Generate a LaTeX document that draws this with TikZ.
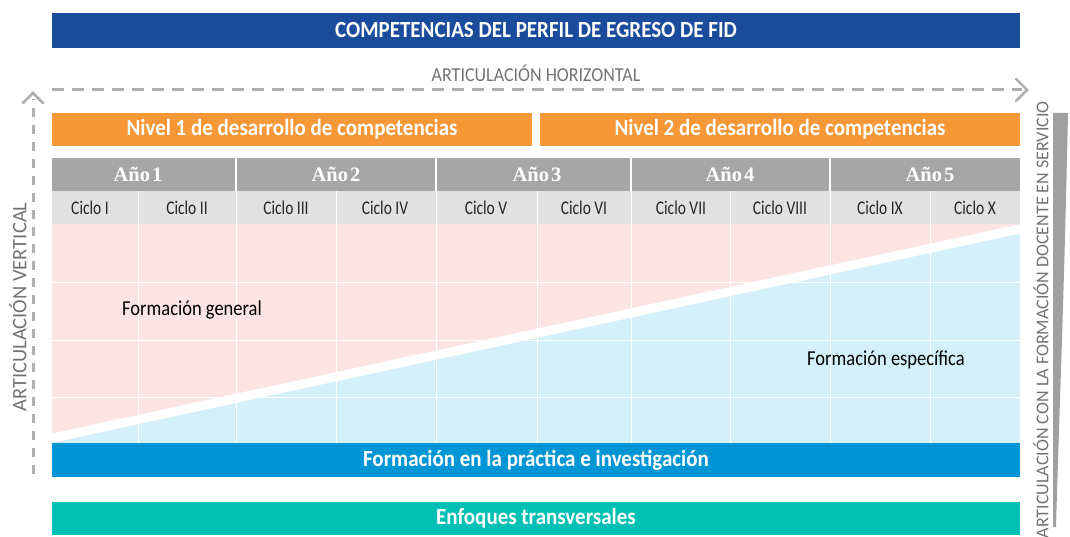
\documentclass[tikz,border=0pt]{standalone}
\usepackage{graphicx}
\usepackage{fontspec}
\setmainfont{Carlito}
\newfontfamily\yearfont{Liberation Serif}
\newcommand\vstr[2]{\scalebox{1}[#1]{#2}}
\definecolor{topblue}{RGB}{27,76,155}
\definecolor{orangebar}{RGB}{247,152,56}
\definecolor{yeargray}{RGB}{166,166,166}
\definecolor{ciclogray}{RGB}{225,225,225}
\definecolor{pinkbg}{RGB}{253,228,228}
\definecolor{lightblue}{RGB}{212,241,251}
\definecolor{practblue}{RGB}{0,150,214}
\definecolor{teal}{RGB}{0,191,179}
\definecolor{dashgray}{RGB}{175,175,175}
\definecolor{labelgray}{RGB}{115,115,115}
\definecolor{wedgegray}{RGB}{160,160,160}
\tikzset{
  bar/.style={inner sep=0pt, minimum height=34pt, text=white, font=\fontsize{21}{23}\selectfont\bfseries},
  yearcell/.style={inner sep=0pt, text=white, font=\yearfont\fontsize{20.5}{22}\selectfont\bfseries},
  ciclocell/.style={inner sep=0pt, text=black!85, font=\fontsize{15.5}{17}\selectfont},
  areatext/.style={inner sep=0pt, text=black, font=\fontsize{18.5}{20}\selectfont},
  sidelabel/.style={inner sep=0pt, text=labelgray, font=\fontsize{18}{20}\selectfont},
  dashline/.style={draw=dashgray, line width=3pt, dash pattern=on 12pt off 8pt},
  vdashline/.style={draw=dashgray, line width=3pt, dash pattern=on 9pt off 8pt},
  chevron/.style={draw=dashgray, line width=2.5pt, line cap=round, line join=miter},
  gridline/.style={draw=white, line width=0.8pt},
  sepline/.style={draw=white, line width=1.5pt}
}
\begin{document}
\begin{tikzpicture}[x=1pt,y=-1pt]
\useasboundingbox (0,0) rectangle (1070,537);

% top bar
\node[bar, fill=topblue, minimum width=968pt, minimum height=35pt] (top) at (536,30.5) {\vstr{1.1}{COMPETENCIAS DEL PERFIL DE EGRESO DE FID}};

% horizontal articulation
\node[sidelabel] (hlabel) at (536,73) {\vstr{1.1}{ARTICULACIÓN HORIZONTAL}};
\coordinate (h0) at (52,90);
\coordinate (h1) at (1022,90);
\draw[dashline] (h0) -- (h1);
\coordinate (ht) at (1027,90);
\draw[chevron] (1016,79) -- (ht) -- (1016,101);

% levels
\node[bar, fill=orangebar, minimum width=480pt, minimum height=33pt] (n1) at (292,129.5) {\vstr{1.1}{Nivel 1 de desarrollo de competencias}};
\node[bar, fill=orangebar, minimum width=480pt, minimum height=33pt] (n2) at (780,129.5) {\vstr{1.1}{Nivel 2 de desarrollo de competencias}};

% year row and ciclo row backgrounds
\fill[yeargray] (52,158) rectangle (1020,191);
\fill[ciclogray] (52,191) rectangle (1020,224);

% main area
\begin{scope}
\clip (52,224) rectangle (1020,443);
\fill[pinkbg] (52,224) rectangle (1020,443);
\fill[lightblue] (52,443) -- (1020,443) -- (1020,229) -- cycle;
\foreach \y in {282,340,397} \draw[gridline] (52,\y) -- (1020,\y);
\draw[draw=white, line width=9pt] (48,439) -- (1024,228);
\end{scope}
\foreach \x in {138,236,336,436,537,631,730,830,930} \draw[gridline] (\x,191) -- (\x,443);

% vertical articulation
\coordinate (v0) at (33,474);
\coordinate (v1) at (33,99);
\draw[vdashline] (v0) -- (v1);
\coordinate (vt) at (33,93);
\draw[chevron] (23,103) -- (vt) -- (43,103);
\node[sidelabel, rotate=90, font=\fontsize{20.5}{22}\selectfont] (vlabel) at (18,307) {ARTICULACIÓN VERTICAL};

% year separators
\foreach \x in {236,436,631,830} \draw[sepline] (\x,158) -- (\x,191);

% year labels
\node[yearcell] (y1) at (138,174.5) {Año\kern0.1em1};
\node[yearcell] (y2) at (336,174.5) {Año\kern0.1em2};
\node[yearcell] (y3) at (537,174.5) {Año\kern0.1em3};
\node[yearcell] (y4) at (730,174.5) {Año\kern0.1em4};
\node[yearcell] (y5) at (930,174.5) {Año\kern0.1em5};

% ciclo labels
\node[ciclocell] (c1) at (90,208) {\vstr{1.25}{Ciclo I}};
\node[ciclocell] (c2) at (187,208) {\vstr{1.25}{Ciclo II}};
\node[ciclocell] (c3) at (286,208) {\vstr{1.25}{Ciclo III}};
\node[ciclocell] (c4) at (385,208) {\vstr{1.25}{Ciclo IV}};
\node[ciclocell] (c5) at (486,208) {\vstr{1.25}{Ciclo V}};
\node[ciclocell] (c6) at (584,208) {\vstr{1.25}{Ciclo VI}};
\node[ciclocell] (c7) at (681,208) {\vstr{1.25}{Ciclo VII}};
\node[ciclocell] (c8) at (780,208) {\vstr{1.25}{Ciclo VIII}};
\node[ciclocell] (c9) at (880,208) {\vstr{1.25}{Ciclo IX}};
\node[ciclocell] (c10) at (975,208) {\vstr{1.25}{Ciclo X}};

% area labels
\node[areatext] (fg) at (192,310) {\vstr{1.15}{Formación general}};
\node[areatext] (fe) at (886,360) {\vstr{1.15}{Formación específica}};

% bottom bars
\node[bar, fill=practblue, minimum width=968pt, minimum height=34pt] (pr) at (536,460) {\vstr{1.1}{Formación en la práctica e investigación}};
\node[bar, fill=teal, minimum width=968pt, minimum height=33pt] (et) at (536,518.5) {\vstr{1.1}{Enfoques transversales}};

% right wedge and label
\fill[wedgegray] (1053,113) -- (1068,113) .. controls (1064,300) and (1059,420) .. (1056,527) -- (1053,527) -- cycle;
\node[sidelabel, rotate=90, anchor=east] (rlabel) at (1041,101) {ARTICULACIÓN CON LA FORMACIÓN DOCENTE EN SERVICIO};

\end{tikzpicture}
\end{document}
